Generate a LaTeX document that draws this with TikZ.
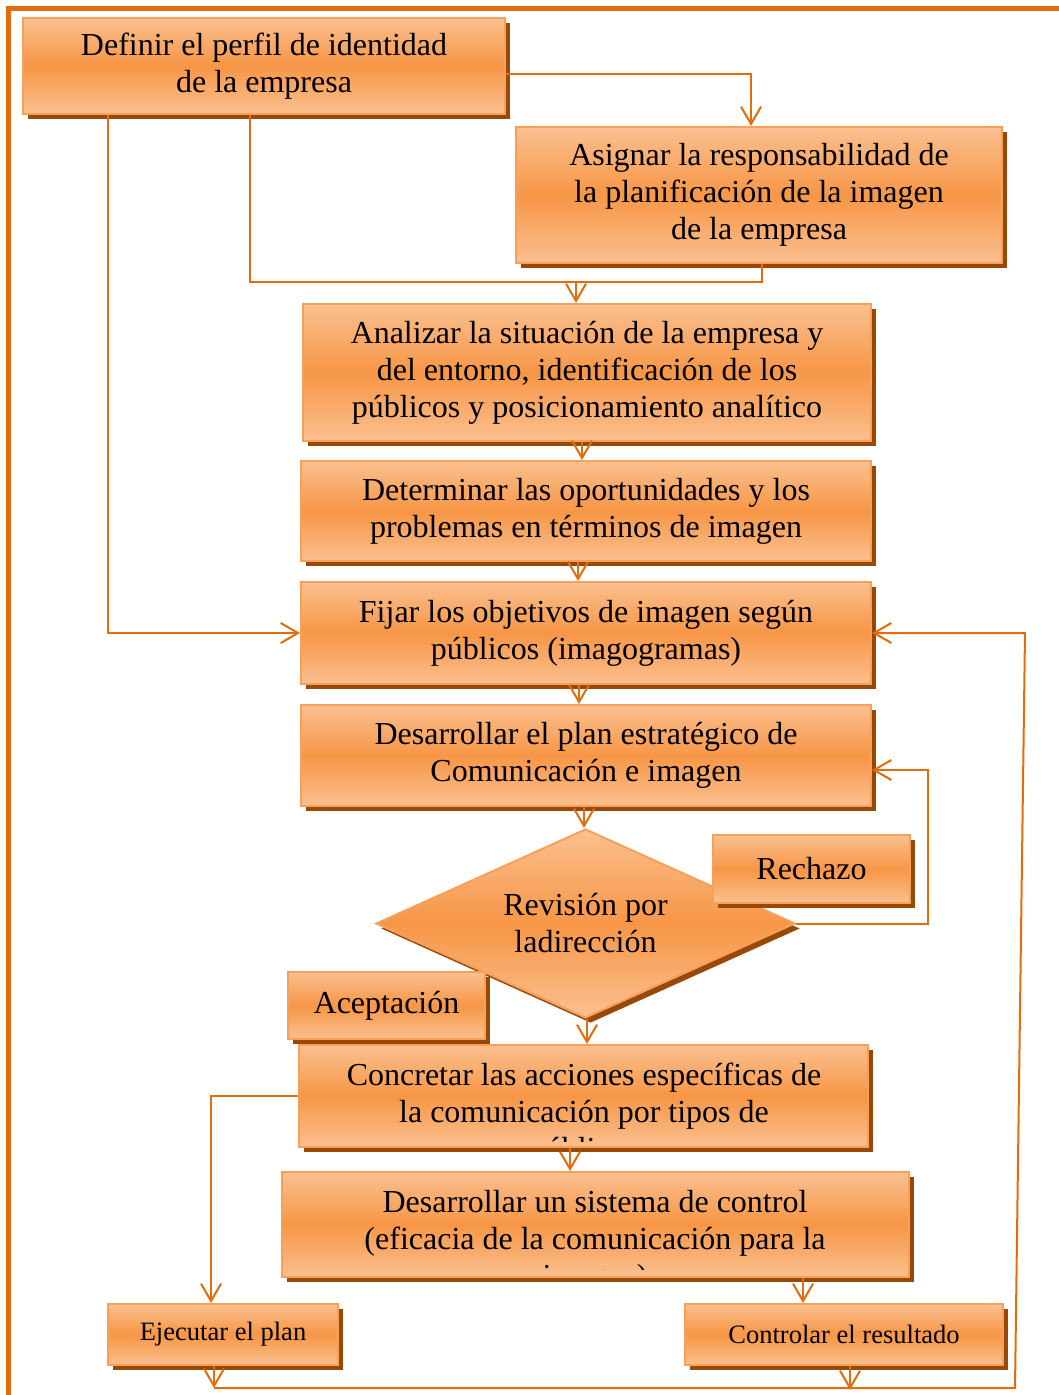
\documentclass[tikz,border=0pt]{standalone}
\usepackage{fontspec}
\setmainfont{Liberation Serif}
\usetikzlibrary{arrows.meta,calc,shapes.geometric,shadows}

\definecolor{boxlight}{HTML}{FAC090}
\definecolor{boxmid}{HTML}{F79646}
\definecolor{boxedge}{HTML}{F7A05A}
\definecolor{shadowc}{HTML}{984807}
\definecolor{linkc}{HTML}{E46C0A}

\newcommand\bigfs{\fontsize{24pt}{27.75pt}\selectfont}
\newcommand\smallfs{\fontsize{19.9pt}{24pt}\selectfont}

\tikzset{
  orangebox/.style={draw=boxedge, line width=1.5pt,
    top color=boxlight, bottom color=boxlight, middle color=boxmid,
    inner sep=0pt, align=center, font=\bigfs, text=black,
    drop shadow={shadow xshift=3.75pt, shadow yshift=-3.75pt, fill=shadowc, opacity=1}},
  boxsize/.style 2 args={minimum width=#1*0.75pt, minimum height=#2*0.75pt},
  plain/.style={draw=linkc, line width=1.5pt},
  link/.style={plain, -{Straight Barb[length=13pt,width=15pt]}},
  txt/.style={align=center, font=\bigfs, inner sep=0pt}
}

\begin{document}
\begin{tikzpicture}[x=0.75pt,y=-0.75pt]
\useasboundingbox (0,0) rectangle (1059,1395);

% page frame
\draw[linkc, line width=4.1pt] (8.5,1395) -- (8.5,8.5) -- (1059,8.5);

% process boxes
\node[orangebox, boxsize={482}{96}] (def) at (264,66)
  {Definir el perfil de identidad\\de la empresa};
\node[orangebox, boxsize={486}{136}] (asg) at (759,195)
  {Asignar la responsabilidad de\\la planificación de la imagen\\de la empresa};
\node[orangebox, boxsize={568}{137}] (ana) at (587,372.5)
  {Analizar la situación de la empresa y\\del entorno, identificación de los\\públicos y posicionamiento analítico};
\node[orangebox, boxsize={570}{100}] (det) at (586,511)
  {Determinar las oportunidades y los\\problemas en términos de imagen};
\node[orangebox, boxsize={570}{102}] (fij) at (586,633)
  {Fijar los objetivos de imagen según\\públicos (imagogramas)};
\node[orangebox, boxsize={570}{101}] (dpl) at (586,755.5)
  {Desarrollar el plan estratégico de\\Comunicación e imagen};

% decision
\node[orangebox, diamond, aspect=2.22, boxsize={419}{189}] (rev) at (585.5,923.5)
  {Revisión por\\ladirección};
\node[orangebox, boxsize={197}{68}] (rec) at (811.5,869) {Rechazo};
\node[orangebox, boxsize={197}{67}] (acp) at (386.5,1005.5) {Aceptación};

% boxes whose last line is cut by the box edge
\node[orangebox, boxsize={569}{102}] (con) at (583.5,1096) {};
\begin{scope}
  \clip (con.north west) rectangle ($(con.south east)+(0,-7)$);
  \node[txt] (contxt) at (584,1115)
    {Concretar las acciones específicas de\\la comunicación por tipos de\\públicos};
\end{scope}
\node[orangebox, boxsize={627}{105}] (sis) at (595.5,1224.5) {};
\begin{scope}
  \clip (sis.north west) rectangle ($(sis.south east)+(0,-9)$);
  \node[txt] (sistxt) at (595,1242)
    {Desarrollar un sistema de control\\(eficacia de la comunicación para la\\imagen)};
\end{scope}

\node[orangebox, font=\smallfs, boxsize={230}{61}] (eje) at (223,1334.5) {Ejecutar el plan};
\node[orangebox, font=\smallfs, boxsize={318}{61}] (ctl) at (844,1334.5) {Controlar el resultado};

% connectors
\coordinate (j1) at (762,282);
\coordinate (j2) at (576,282);
\coordinate (k1) at (928,923.5);
\coordinate (b1) at (214,1388);
\coordinate (b2) at (1015,1388);
\coordinate (b3) at (1025,633);

\draw[link] ($(def.east)+(0,8)$) -| ($(asg.north)+(-8,0)$);
\draw[plain] ($(def.south)+(-14,0)$) |- (j1) -- ($(asg.south)+(3,0)$);
\draw[link] (j2) -- (ana.north -| j2);
\draw[link] ($(def.south)+(-156,0)$) |- (fij.west);
\draw[link] ($(ana.south)+(-5,0)$) -- ($(det.north)+(-4,0)$);
\draw[link] ($(det.south)+(-8,0)$) -- ($(fij.north)+(-8,0)$);
\draw[link] ($(fij.south)+(-7,0)$) -- ($(dpl.north)+(-7,0)$);
\draw[link] ($(dpl.south)+(-2,0)$) -- ($(rev.north)+(-1.5,0)$);
\draw[link] (rev.east) -- (k1) |- ($(dpl.east)+(0,14.5)$);
\draw[link] ($(rev.south)+(1.5,0)$) -- ($(con.north)+(3.5,0)$);
\draw[link] (con.west) -| ($(eje.north)+(-12,0)$);
\draw[link] ($(con.south)+(-13.5,0)$) -- ($(sis.north)+(-25.5,0)$);
\draw[link] ($(sis.south)+(207.5,0)$) -- ($(ctl.north)+(-41,0)$);
\draw[link] ($(eje.south)+(-9,0)$) -- (b1);
\draw[link] ($(ctl.south)+(6,0)$) -- ($(ctl.south)+(6,24)$);
\draw[link] (b1) -- (b2) -- (b3) -- (fij.east);
\end{tikzpicture}
\end{document}
